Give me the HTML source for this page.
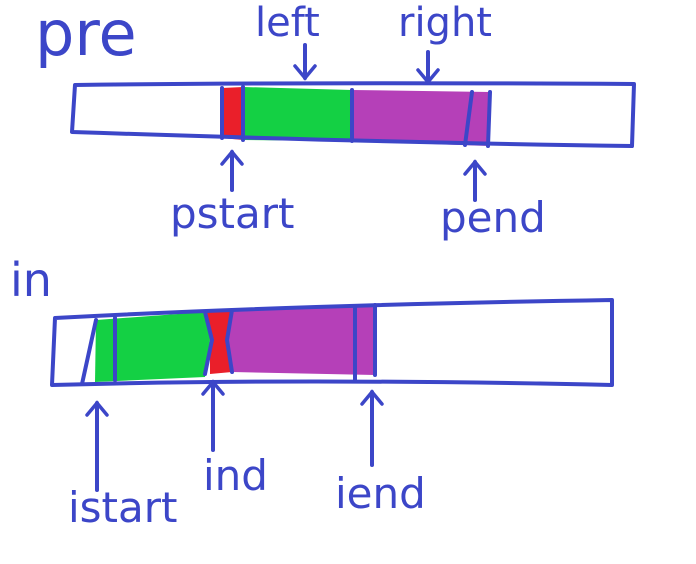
<!DOCTYPE html>
<html><head><meta charset="utf-8"><style>
html,body{margin:0;padding:0;background:#fff;width:696px;height:564px;overflow:hidden}
svg text{font-family:"DejaVu Sans","Liberation Sans",sans-serif;fill:#3c46c8}
</style></head><body>
<svg width="696" height="564" viewBox="0 0 696 564">
<defs><marker id="ah" markerUnits="userSpaceOnUse" markerWidth="30" markerHeight="30" refX="14" refY="12" orient="auto"><path d="M2,2 L14,12 L2,22" fill="none" stroke="#3c46c8" stroke-width="3.5" stroke-linecap="round"/></marker></defs>
<g stroke="#3c46c8" stroke-width="4" fill="none" stroke-linecap="round" stroke-linejoin="round">
<g>
<polygon points="222,88 243,87 243,140 222,138" fill="#ea1f2a" stroke="none"/>
<polygon points="243,87 352,90 352,141 243,140" fill="#14d044" stroke="none"/>
<polygon points="352,90 490,92 488,146 352,141" fill="#b540b8" stroke="none"/>
<path d="M75,85 Q300,82 634,84 L632,146 Q400,143 72,132 Z"/>
<path d="M222,88 L222,138 M243,87 L243,140 M352,90 L352,141 M472,92 L465,145 M490,92 L488,146"/>
</g>
<g>
<polygon points="96,320 205,312 210,340 205,377 95,382" fill="#14d044" stroke="none"/>
<polygon points="205,312 232,310 227,340 232,372 210,374 210,340" fill="#ea1f2a" stroke="none"/>
<polygon points="232,310 375,305 375,375 232,372 227,340" fill="#b540b8" stroke="none"/>
<path d="M55,318 Q300,305 612,300 L612,385 Q300,378 52,385 Z"/>
<path d="M96,320 L82,384 M115,318 L115,380 M205,312 L212,340 L205,374 M232,310 L227,340 L232,372 M355,306 L355,380 M375,305 L375,375"/>
</g>
<path d="M305,45 L305,78" marker-end="url(#ah)"/>
<path d="M428,52 L428,82" marker-end="url(#ah)"/>
<path d="M232,190 L232,152" marker-end="url(#ah)"/>
<path d="M475,200 L475,162" marker-end="url(#ah)"/>
<path d="M97,490 L97,403" marker-end="url(#ah)"/>
<path d="M213,450 L213,382" marker-end="url(#ah)"/>
<path d="M372,465 L372,392" marker-end="url(#ah)"/>
</g>
<text x="35" y="55" font-size="62">pre</text>
<text x="255" y="36" font-size="40">left</text>
<text x="398" y="36" font-size="40">right</text>
<text x="170" y="228" font-size="42">pstart</text>
<text x="440" y="232" font-size="42">pend</text>
<text x="10" y="296" font-size="46">in</text>
<text x="68" y="522" font-size="42">istart</text>
<text x="203" y="490" font-size="42">ind</text>
<text x="335" y="508" font-size="42">iend</text>
</svg>
</body></html>
